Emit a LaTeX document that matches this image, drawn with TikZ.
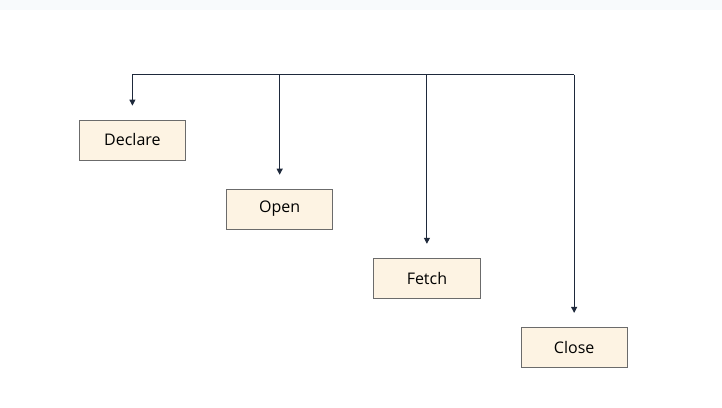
\documentclass[tikz,border=0pt]{standalone}
\usepackage{fontspec}
\setmainfont{Open Sans}
\usepackage{tikz}
\usetikzlibrary{positioning, arrows.meta, calc}
\definecolor{stline}{HTML}{1E293B}
\definecolor{stfill}{HTML}{FDF3E3}
\definecolor{stdraw}{HTML}{6B6B6B}
\definecolor{stband}{HTML}{F8FAFC}

\begin{document}
\begin{tikzpicture}[
  stepbox/.style={
    rectangle, draw=stdraw, fill=stfill, line width=0.6pt,
    minimum width=2.8cm, minimum height=1.05cm,
    font=\fontsize{12}{14}\selectfont, align=center
  },
  arr/.style={-{Triangle[length=4.5pt, width=4.5pt]}, line width=0.75pt, color=stline,
    shorten >=0.37cm},
]

% Canvas and top band
\useasboundingbox (-3.49,3.69) rectangle (15.54,-7.06);
\fill[stband] (-3.49,3.69) rectangle (15.54,3.43);

% Cursor steps
\node[stepbox] (declare) at (0,0) {Declare};
\node[stepbox, below right=0.75cm and 1.06cm of declare] (open) {Open};
\node[stepbox, below right=0.75cm and 1.06cm of open] (fetch) {Fetch};
\node[stepbox, below right=0.75cm and 1.06cm of fetch] (close) {Close};

% Bus line
\coordinate (bus) at ($(declare.north)+(0,1.19)$);
\coordinate (busdeclare) at (declare.north |- bus);
\coordinate (busopen) at (open.north |- bus);
\coordinate (busfetch) at (fetch.north |- bus);
\coordinate (busclose) at (close.north |- bus);
\draw[line width=0.75pt, color=stline] (busdeclare) -- (busclose);

% Arrows
\draw[arr] (busdeclare) -- (declare.north);
\draw[arr] (busopen) -- (open.north);
\draw[arr] (busfetch) -- (fetch.north);
\draw[arr] (busclose) -- (close.north);
\end{tikzpicture}
\end{document}
